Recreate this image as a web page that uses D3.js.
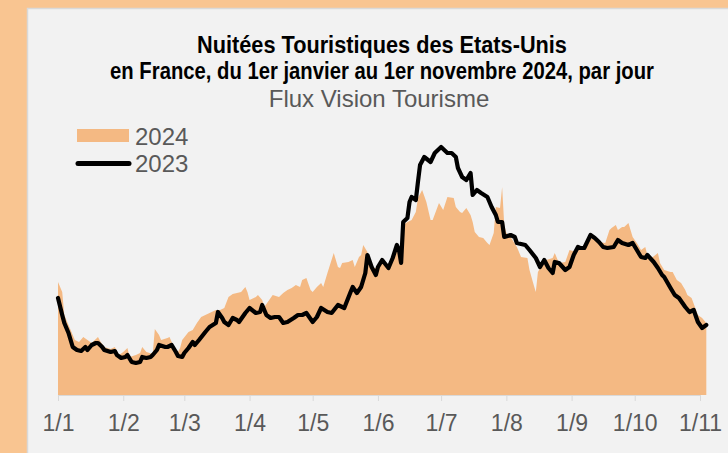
<!DOCTYPE html>
<html>
<head>
<meta charset="utf-8">
<script src="https://cdn.jsdelivr.net/npm/d3@7"></script>
<style>
html, body { margin: 0; overflow: hidden; background: #f2f2f2; }
svg { display: block; }
text { font-family: "Liberation Sans", Arial, sans-serif; }
</style>
</head>
<body>
<script>
// Nuitées touristiques des Etats-Unis (jour depuis le 1er janvier, valeur relative)
var serie2024 = [
	[0,113],[2,103],[3,80],[6,65],[8,55],[10,53],[12,58],[14,55],[16,52],[19,58],
	[20,54],[22,48],[25,46],[27,48],[29,40],[31,43],[33,47],[34,38],[37,40],[39,42],
	[40,48],[42,43],[45,41],[46,66],[48,60],[49,55],[52,57],[53,58],[55,48],[57,43],
	[58,47],[59,55],[62,63],[64,65],[66,72],[68,78],[70,80],[72,82],[75,85],[77,85],
	[79,87],[81,98],[83,101],[85,102],[87,103],[89,108],[90,103],[91,95],[94,98],[95,100],
	[97,95],[98,88],[101,97],[102,100],[105,98],[107,102],[109,105],[111,107],[113,110],[115,108],
	[116,115],[118,117],[120,105],[121,103],[123,108],[125,112],[126,108],[128,122],[131,142],[133,128],
	[134,127],[135,132],[138,133],[140,135],[141,128],[143,138],[144,140],[145,150],[147,143],[149,127],
	[152,127],[154,133],[157,127],[159,137],[161,148],[162,143],[163,133],[164,170],[166,173],[168,175],
	[170,183],[171,197],[173,205],[175,193],[177,175],[178,175],[181,192],[183,185],[185,198],[188,197],
	[189,188],[191,183],[192,182],[194,187],[196,180],[197,173],[198,163],[200,158],[202,157],[204,152],
	[205,150],[207,162],[208,188],[210,187],[211,208],[212,170],[213,162],[215,158],[218,148],[220,138],
	[223,137],[224,125],[226,110],[227,103],[228,123],[230,130],[232,135],[235,137],[236,142],[238,132],
	[241,133],[243,145],[246,143],[248,147],[250,150],[253,157],[255,155],[257,153],[260,152],[262,165],
	[263,167],[265,170],[266,165],[268,168],[269,168],[271,172],[273,158],[275,152],[277,145],[279,148],
	[280,140],[282,137],[285,142],[286,132],[288,125],[291,123],[292,123],[294,115],[296,112],[298,105],
	[299,100],[301,97],[304,80],[306,77],[308,72]
];

var serie2023 = [
	[0,97],[2,80],[3,72],[5,62],[7,48],[9,45],[11,44],[13,48],[14,45],[16,50],
	[18,52],[19,52],[21,48],[22,45],[25,43],[27,44],[28,40],[30,37],[32,38],[33,40],
	[35,33],[37,32],[39,33],[40,38],[42,37],[44,38],[45,40],[47,45],[48,50],[51,48],
	[52,48],[54,50],[56,43],[57,39],[59,38],[60,42],[62,47],[64,53],[65,50],[67,55],
	[70,63],[72,68],[75,72],[76,83],[78,77],[79,73],[81,70],[83,77],[85,75],[86,73],
	[89,82],[91,87],[94,82],[96,83],[97,90],[99,80],[101,77],[103,78],[105,78],[107,72],
	[109,73],[112,77],[114,80],[116,80],[118,82],[121,73],[123,78],[125,87],[128,83],[130,82],
	[133,90],[135,88],[136,87],[139,103],[140,108],[142,102],[144,108],[146,122],[147,140],[149,128],
	[151,120],[152,128],[154,135],[157,127],[159,137],[161,150],[162,145],[163,132],[164,173],[166,177],
	[167,193],[168,198],[170,195],[171,213],[172,230],[174,238],[177,233],[179,242],[182,248],[185,242],
	[187,242],[189,238],[190,227],[192,218],[194,215],[196,222],[197,200],[199,205],[201,202],[204,198],
	[206,188],[208,180],[209,173],[211,173],[212,158],[215,160],[217,158],[218,152],[222,150],[224,145],
	[227,137],[229,128],[231,135],[233,127],[235,122],[236,133],[238,132],[241,125],[243,128],[245,140],
	[247,148],[248,147],[250,147],[253,160],[255,157],[257,153],[259,148],[261,147],[264,148],[266,155],
	[268,152],[271,150],[273,152],[275,145],[277,138],[279,137],[280,140],[283,133],[285,127],[287,120],
	[288,118],[291,107],[293,100],[295,97],[298,88],[300,83],[302,85],[304,73],[306,67],[308,70]
];

var moisLabels = ["1/1","1/2","1/3","1/4","1/5","1/6","1/7","1/8","1/9","1/10","1/11"];

var titre1 = "Nuitées Touristiques des Etats-Unis",
	titre2 = "en France, du 1er janvier au 1er novembre 2024, par jour",
	sousTitre = "Flux Vision Tourisme";

var width = 728,
	height = 453;

var orange = "#f4b983",
	gris = "#595959";

function jour(d) { return new Date(2024, 0, 1 + d); }

var svg = d3.select("body").append("svg")
	.attr("width", width)
	.attr("height", height)
	.style("overflow", "hidden");

// fond et cadre
svg.append("rect")
	.attr("width", width).attr("height", height)
	.attr("fill", "#f9c591");
svg.append("rect")
	.attr("x", 27.5).attr("y", 8.5)
	.attr("width", width).attr("height", height)
	.attr("fill", "#f2f2f2")
	.attr("stroke", "#d9d9d9")
	.attr("stroke-width", 1.5);

var x = d3.scaleTime()
	.domain([new Date(2024, 0, 1), new Date(2024, 10, 1)])
	.range([58, 700]);

var y = d3.scaleLinear()
	.domain([0, 250])
	.range([395, 145]);

// 2024 en aire
var area = d3.area()
	.x(function(d) { return x(jour(d[0])); })
	.y0(y(0))
	.y1(function(d) { return y(d[1]); });

svg.append("path")
	.datum(serie2024)
	.attr("d", area)
	.attr("fill", orange);

// axe des dates
var moisDates = moisLabels.map(function(l) {
	return new Date(2024, +l.split("/")[1] - 1, 1);
});

var axe = svg.append("g")
	.attr("transform", "translate(0," + y(0) + ")")
	.call(d3.axisBottom(x)
		.tickValues(moisDates)
		.tickFormat(function(d, i) { return moisLabels[i]; })
		.tickSize(6)
		.tickSizeOuter(0)
		.tickPadding(14));

axe.select(".domain").attr("stroke", "#d9d9d9");
axe.selectAll(".tick line").attr("stroke", "#d9d9d9");
axe.selectAll(".tick text")
	.attr("fill", gris)
	.style("font-size", "23px")
	.style("font-family", "'Liberation Sans', Arial, sans-serif");

// 2023 en ligne
var line = d3.line()
	.x(function(d) { return x(jour(d[0])); })
	.y(function(d) { return y(d[1]); });

svg.append("path")
	.datum(serie2023)
	.attr("d", line)
	.attr("fill", "none")
	.attr("stroke", "#000")
	.attr("stroke-width", 4.2)
	.attr("stroke-linejoin", "round")
	.attr("stroke-linecap", "round");

// titres : gras étroit, obtenu en resserrant horizontalement
function titreEtroit(txt, cx, by, largeur) {
	var t = svg.append("text")
		.attr("text-anchor", "middle")
		.style("font-size", "24px").style("font-weight", "bold")
		.text(txt);
	var k = largeur / t.node().getComputedTextLength();
	t.attr("transform", "translate(" + cx + "," + by + ") scale(" + k + ",1)");
}
titreEtroit(titre1, 382, 53, 370);
titreEtroit(titre2, 382, 79, 544);

svg.append("text")
	.attr("x", 379).attr("y", 107)
	.attr("text-anchor", "middle")
	.attr("fill", gris)
	.style("font-size", "24px")
	.text(sousTitre);

// légende
var legende = svg.append("g");

legende.append("rect")
	.attr("x", 77).attr("y", 129)
	.attr("width", 52).attr("height", 13)
	.attr("fill", orange);
legende.append("text")
	.attr("x", 135).attr("y", 145)
	.attr("fill", gris)
	.style("font-size", "24px")
	.text("2024");

legende.append("line")
	.attr("x1", 78).attr("x2", 129)
	.attr("y1", 163.5).attr("y2", 163.5)
	.attr("stroke", "#000")
	.attr("stroke-width", 5)
	.attr("stroke-linecap", "round");
legende.append("text")
	.attr("x", 135).attr("y", 172)
	.attr("fill", gris)
	.style("font-size", "24px")
	.text("2023");
</script>
</body>
</html>
